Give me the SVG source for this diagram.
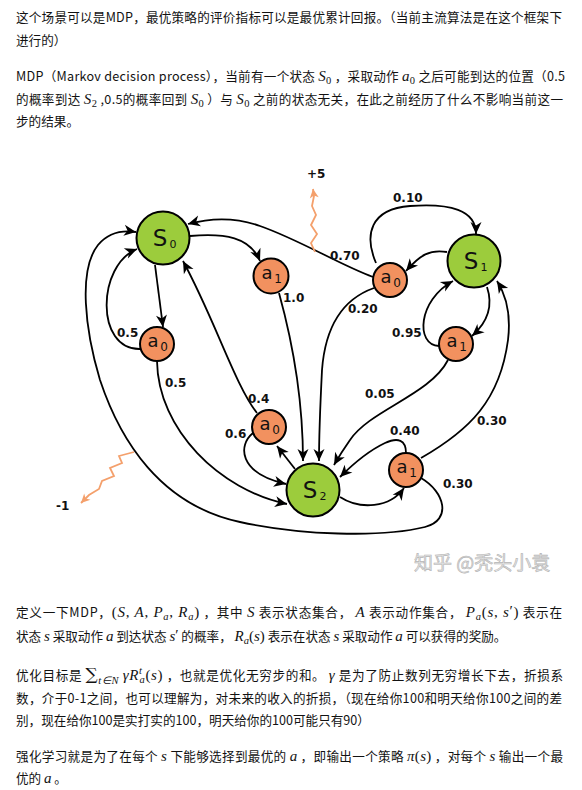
<svg xmlns="http://www.w3.org/2000/svg" width="582" height="790" viewBox="0 0 582 790">
<style>
.p{font-family:"Noto Sans CJK SC","Noto Sans",sans-serif;font-size:12.6px;fill:#121212}
.mi{font-family:"Liberation Serif",serif;font-style:italic;font-size:15px}
.mr{font-family:"Liberation Serif",serif;font-style:normal;font-size:15px}
.sb{font-family:"Liberation Serif",serif;font-size:10.5px}
.sbi{font-family:"Liberation Serif",serif;font-style:italic;font-size:10.5px}
.st{fill:#9ccc3c;stroke:#000;stroke-width:2}
.ac{fill:#f2915f;stroke:#000;stroke-width:2}
.nl{font-family:"DejaVu Sans",sans-serif;fill:#111;text-anchor:middle}
.e{fill:none;stroke:#000;stroke-width:1.8;marker-end:url(#ah)}
.el{font-family:"DejaVu Sans",sans-serif;font-weight:bold;font-size:12px;fill:#111}
.sq{fill:none;stroke:#f4a06c;stroke-width:1.8;marker-end:url(#oh)}
</style>
<defs>
<marker id="ah" viewBox="-13 -6 14 12" refX="0" refY="0" markerWidth="14" markerHeight="12" markerUnits="userSpaceOnUse" orient="auto"><path d="M0,0 L-12,-5.5 L-8.5,0 L-12,5.5 Z" fill="#000"/></marker>
<marker id="oh" viewBox="-10 -5 11 10" refX="0" refY="0" markerWidth="11" markerHeight="10" markerUnits="userSpaceOnUse" orient="auto"><path d="M0,0 L-9,-4.5 L-6.5,0 L-9,4.5 Z" fill="#f4a06c"/></marker>
</defs>
<rect width="582" height="790" fill="#fff"/>

<g id="intro">
<text class="p" x="16" y="22" textLength="546" lengthAdjust="spacing">这个场景可以是MDP，最优策略的评价指标可以是最优累计回报。（当前主流算法是在这个框架下</text>
<text class="p" x="16" y="45">进行的）</text>
<text class="p" x="16" y="81" textLength="549" lengthAdjust="spacing">MDP（Markov decision process），当前有一个状态 <tspan class="mi">S</tspan><tspan class="sb" dy="3">0</tspan><tspan dy="-3"> ，采取动作 </tspan><tspan class="mi">a</tspan><tspan class="sb" dy="3">0</tspan><tspan dy="-3"> 之后可能到达的位置（0.5</tspan></text>
<text class="p" x="16" y="104" textLength="547" lengthAdjust="spacing">的概率到达 <tspan class="mi">S</tspan><tspan class="sb" dy="3">2</tspan><tspan dy="-3"> ,0.5的概率回到 </tspan><tspan class="mi">S</tspan><tspan class="sb" dy="3">0</tspan><tspan dy="-3"> ）与 </tspan><tspan class="mi">S</tspan><tspan class="sb" dy="3">0</tspan><tspan dy="-3"> 之前的状态无关，在此之前经历了什么不影响当前这一</tspan></text>
<text class="p" x="16" y="126">步的结果。</text>
</g>

<g id="connectors">
<path class="e" d="M190,236 C225,233 250,237 260,261"/>
<path class="e" d="M279,293 C292,340 303,400 303,461"/>
<path class="e" d="M155,265 L163,327"/>
<path class="e" d="M140,349 C95,350 97,265 137,249"/>
<path class="e" d="M157,361 C158,430 220,490 287,504"/>
<path class="e" d="M295,469 L277,446"/>
<path class="e" d="M253,433 C238,445 238,473 286,484"/>
<path class="e" d="M257,413 C235,385 215,320 183,261"/>
<path class="e" d="M421,478 C445,492 452,520 425,527 C380,538 300,535 240,522 C160,505 120,440 100,380 C85,330 78,270 98,245 C108,233 122,230 136,232"/>
<path class="e" d="M421,458 C470,430 500,400 508,340 C511,315 506,295 497,281"/>
<path class="e" d="M406,453 C406,440 398,437 385,443 C366,452 352,465 340,477"/>
<path class="e" d="M340,497 C360,510 390,508 404,488"/>
<path class="e" d="M447,252 C430,249 420,255 406,271"/>
<path class="e" d="M376,263 C364,235 370,209 410,206 C450,203 476,210 476,234"/>
<path class="e" d="M373,277 C340,265 300,240 260,226 C235,217 210,218 188,224"/>
<path class="e" d="M374,288 C340,300 325,330 322,370 C320,410 319,440 319,461"/>
<path class="e" d="M487,287 C493,305 489,321 472,336"/>
<path class="e" d="M439,346 C415,345 418,300 453,281"/>
<path class="e" d="M448,360 C430,395 370,410 350,440 C343,450 338,458 334,465"/>
<path class="sq" d="M315,252 L311,243 L317,234 L311,225 L316,215 L312,206 L314,196 L313,189"/>
<path class="sq" d="M134,452 L119,456 L122,463 L110,468 L114,476 L102,481 L99,489 L89,495 L81,503"/>
<text class="el" x="283" y="302">1.0</text>
<text class="el" x="117" y="337">0.5</text>
<text class="el" x="165" y="387">0.5</text>
<text class="el" x="225" y="438">0.6</text>
<text class="el" x="248" y="403">0.4</text>
<text class="el" x="443" y="488">0.30</text>
<text class="el" x="477" y="425">0.30</text>
<text class="el" x="390" y="435">0.40</text>
<text class="el" x="393" y="202">0.10</text>
<text class="el" x="330" y="260">0.70</text>
<text class="el" x="348" y="313">0.20</text>
<text class="el" x="392" y="337">0.95</text>
<text class="el" x="365" y="398">0.05</text>
<text class="el" x="307" y="178">+5</text>
<text class="el" x="56" y="510">-1</text>
</g>

<g id="S0"><circle class="st" cx="163" cy="238" r="26.5"/><text class="nl" x="160" y="246" font-size="23">S</text><text class="nl" x="173" y="248" font-size="11">0</text></g>
<g id="S1"><circle class="st" cx="474" cy="261" r="26.5"/><text class="nl" x="471" y="269" font-size="23">S</text><text class="nl" x="484" y="271" font-size="11">1</text></g>
<g id="S2"><circle class="st" cx="313" cy="490" r="26.5"/><text class="nl" x="310" y="498" font-size="23">S</text><text class="nl" x="323" y="500" font-size="11">2</text></g>
<g id="a0_s0"><circle class="ac" cx="157" cy="344" r="17"/><text class="nl" x="153" y="347" font-size="18">a</text><text class="nl" x="164" y="351" font-size="12">0</text></g>
<g id="a1_s0"><circle class="ac" cx="271" cy="276" r="17.5"/><text class="nl" x="267" y="279" font-size="18">a</text><text class="nl" x="278" y="283" font-size="12">1</text></g>
<g id="a0_s1"><circle class="ac" cx="390" cy="280" r="17"/><text class="nl" x="386" y="283" font-size="18">a</text><text class="nl" x="397" y="287" font-size="12">0</text></g>
<g id="a1_s1"><circle class="ac" cx="456" cy="344" r="17"/><text class="nl" x="452" y="347" font-size="18">a</text><text class="nl" x="463" y="351" font-size="12">1</text></g>
<g id="a0_s2"><circle class="ac" cx="269" cy="427" r="17"/><text class="nl" x="265" y="430" font-size="18">a</text><text class="nl" x="276" y="434" font-size="12">0</text></g>
<g id="a1_s2"><circle class="ac" cx="406" cy="470" r="17"/><text class="nl" x="402" y="473" font-size="18">a</text><text class="nl" x="413" y="477" font-size="12">1</text></g>

<g id="watermark"><text x="414" y="570" font-family="Noto Sans CJK SC,sans-serif" font-size="19" fill="#e4e4e4" stroke="#b4b4b4" stroke-width="0.6">知乎 @秃头小袁</text></g>

<g id="definitions">
<text class="p" x="16" y="617" textLength="546" lengthAdjust="spacing">定义一下MDP，<tspan class="mr">(</tspan><tspan class="mi">S</tspan><tspan class="mr">, </tspan><tspan class="mi">A</tspan><tspan class="mr">, </tspan><tspan class="mi">P</tspan><tspan class="sbi" dy="3">a</tspan><tspan class="mr" dy="-3">, </tspan><tspan class="mi">R</tspan><tspan class="sbi" dy="3">a</tspan><tspan class="mr" dy="-3">)</tspan> ，其中 <tspan class="mi">S</tspan> 表示状态集合， <tspan class="mi">A</tspan> 表示动作集合， <tspan class="mi">P</tspan><tspan class="sbi" dy="3">a</tspan><tspan class="mr" dy="-3">(</tspan><tspan class="mi">s</tspan><tspan class="mr">, </tspan><tspan class="mi">s</tspan><tspan class="mr" dy="-1">′</tspan><tspan class="mr" dy="1">)</tspan> 表示在</text>
<text class="p" x="16" y="641">状态 <tspan class="mi">s</tspan> 采取动作 <tspan class="mi">a</tspan> 到达状态 <tspan class="mi">s</tspan><tspan class="mr" dy="-1">′</tspan><tspan dy="1"> 的概率， </tspan><tspan class="mi">R</tspan><tspan class="sbi" dy="3">a</tspan><tspan class="mr" dy="-3">(</tspan><tspan class="mi">s</tspan><tspan class="mr">)</tspan> 表示在状态 <tspan class="mi">s</tspan> 采取动作 <tspan class="mi">a</tspan> 可以获得的奖励。</text>
<text class="p" x="16" y="680" textLength="547" lengthAdjust="spacing">优化目标是 <tspan font-family="DejaVu Serif,serif" font-size="17">∑</tspan><tspan class="sbi" dy="4">t∈N</tspan><tspan dy="-4"> </tspan><tspan class="mi">γR</tspan><tspan class="sbi" dy="-6">t</tspan><tspan class="sbi" dx="-3" dy="9">a</tspan><tspan class="mr" dy="-3">(</tspan><tspan class="mi">s</tspan><tspan class="mr">)</tspan> ，也就是优化无穷步的和。 <tspan class="mi">γ</tspan> 是为了防止数列无穷增长下去，折损系</text>
<text class="p" x="16" y="703" textLength="546" lengthAdjust="spacing">数，介于0-1之间，也可以理解为，对未来的收入的折损，（现在给你100和明天给你100之间的差</text>
<text class="p" x="16" y="725">别，现在给你100是实打实的100，明天给你的100可能只有90）</text>
<text class="p" x="16" y="761" textLength="547" lengthAdjust="spacing">强化学习就是为了在每个 <tspan class="mi">s</tspan> 下能够选择到最优的 <tspan class="mi">a</tspan> ，即输出一个策略 <tspan class="mi">π</tspan><tspan class="mr">(</tspan><tspan class="mi">s</tspan><tspan class="mr">)</tspan> ，对每个 <tspan class="mi">s</tspan> 输出一个最</text>
<text class="p" x="16" y="783">优的 <tspan class="mi">a</tspan> 。</text>
</g>
</svg>
